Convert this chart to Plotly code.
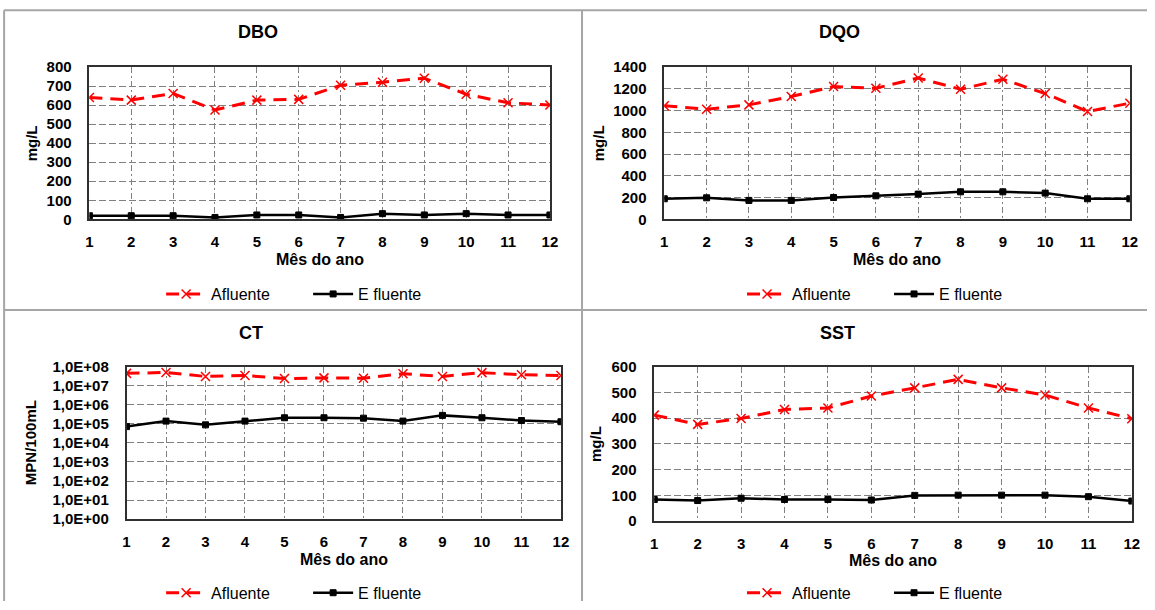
import plotly.graph_objects as go

W, H = 1155, 610
# The captured page is shown with an 8px offset and shrunk (1171x626 -> 1155x610);
SX, SY, OFF = 1171 / 1155, 626 / 610, 8


def px(x):
    return (x * SX - OFF) / W


def py(y):
    return 1 - (y * SY - OFF) / H


months = list(range(1, 13))
tick_months = [str(m) for m in months]

dbo_af = [640, 626, 661, 574, 626, 630, 704, 720, 741, 657, 612, 600]
dbo_ef = [19, 19, 19, 10, 23, 23, 10, 30, 23, 30, 23, 23]
dqo_af = [1043, 1012, 1052, 1128, 1220, 1204, 1299, 1195, 1287, 1156, 991, 1067]
dqo_ef = [189, 198, 174, 174, 201, 216, 232, 253, 253, 241, 189, 189]
ct_af = [4.5e7, 5.0e7, 3.1e7, 3.5e7, 2.4e7, 2.6e7, 2.5e7, 4.3e7, 3.1e7, 4.9e7, 3.8e7, 3.5e7]
ct_ef = [7.2e4, 1.4e5, 8.9e4, 1.4e5, 2.1e5, 2.1e5, 2.0e5, 1.4e5, 2.8e5, 2.1e5, 1.5e5, 1.3e5]
sst_af = [412, 376, 399, 434, 440, 486, 518, 551, 518, 490, 440, 398]
sst_ef = [84, 80, 89, 84, 84, 82, 100, 101, 101, 101, 95, 78]

ct_tickvals = [1e0, 1e1, 1e2, 1e3, 1e4, 1e5, 1e6, 1e7, 1e8]
ct_ticktext = ["1,0E+00", "1,0E+01", "1,0E+02", "1,0E+03", "1,0E+04",
               "1,0E+05", "1,0E+06", "1,0E+07", "1,0E+08"]

FONT = "Liberation Sans, Arial, sans-serif"
GRID = "#808080"

panels = [
    dict(title="DBO", af=dbo_af, ef=dbo_ef, ytitle="mg/L", box=(93, 552, 66, 219),
         yopts=dict(range=[0, 800], dtick=100), leg=(311, 294), ytx=35, ttx=261, tty=31, xtty=259),
    dict(title="DQO", af=dqo_af, ef=dqo_ef, ytitle="mg/L", box=(666, 1130, 66, 219),
         yopts=dict(range=[0, 1400], dtick=200), leg=(890, 294), ytx=600, ttx=841, tty=31, xtty=259),
    dict(title="CT", af=ct_af, ef=ct_ef, ytitle="MPN/100mL", box=(130, 563, 367, 520),
         yopts=dict(type="log", range=[0, 8], tickvals=ct_tickvals, ticktext=ct_ticktext),
         leg=(311, 594), ytx=35, ttx=254, tty=333, xtty=561),
    dict(title="SST", af=sst_af, ef=sst_ef, ytitle="mg/L", box=(656, 1132, 367, 522),
         yopts=dict(range=[0, 600], dtick=100), leg=(890, 594), ytx=598, ttx=839, tty=333, xtty=562),
]

fig = go.Figure()
annotations = []
layout = {}

for i, p in enumerate(panels, start=1):
    sfx = "" if i == 1 else str(i)
    xa, ya = "x" + sfx, "y" + sfx
    leg = "legend" + sfx
    x0, x1, yt, yb = p["box"]

    fig.add_trace(go.Scatter(
        x=months, y=p["af"], name="Afluente", mode="lines+markers",
        xaxis=xa, yaxis=ya, legend=leg,
        line=dict(color="#ff0000", width=3, dash="13px,8px"),
        marker=dict(symbol="x-thin", size=9, line=dict(color="#ff0000", width=1.5), color="#ff0000"),
    ))
    fig.add_trace(go.Scatter(
        x=months, y=p["ef"], name="E fluente", mode="lines+markers",
        xaxis=xa, yaxis=ya, legend=leg,
        line=dict(color="#000000", width=2.5),
        marker=dict(symbol="square", size=6, color="#000000", line=dict(color="#000000", width=1)),
    ))

    layout["xaxis" + sfx] = dict(
        domain=[px(x0), px(x1)], anchor=ya, range=[1, 12],
        tickvals=months, ticktext=tick_months,
        showgrid=True, gridcolor=GRID, gridwidth=1, griddash="6px,3px,2px,3px",
        showline=True, mirror=True, linecolor="#303030", linewidth=1.5,
        ticks="", ticklabelstandoff=8, zeroline=False,
        tickfont=dict(family=FONT, size=15, color="#000000", weight="bold"),
    )
    yopts = dict(
        domain=[py(yb), py(yt)], anchor=xa,
        showgrid=True, gridcolor=GRID, gridwidth=1, griddash="7px,3px",
        showline=True, mirror=True, linecolor="#303030", linewidth=1.5,
        ticks="", ticklabelstandoff=13, zeroline=False,
        tickfont=dict(family=FONT, size=15, color="#000000", weight="bold"),
    )
    yopts.update(p["yopts"])
    layout["yaxis" + sfx] = yopts

    lx, ly = p["leg"]
    layout[leg] = dict(
        x=px(lx), y=py(ly), xanchor="center", yanchor="middle",
        orientation="h", bgcolor="rgba(0,0,0,0)",
        font=dict(family=FONT, size=16, color="#000000"),
        itemwidth=40, tracegroupgap=0,
        entrywidth=92, entrywidthmode="pixels",
    )

    annotations.append(dict(
        text="<b>%s</b>" % p["title"], x=px(p["ttx"]), y=py(p["tty"]),
        xref="paper", yref="paper", showarrow=False, xanchor="center", yanchor="middle",
        font=dict(family=FONT, size=18, color="#000000"),
    ))
    annotations.append(dict(
        text="<b>Mês do ano</b>", x=px((x0 + x1) / 2), y=py(p["xtty"]),
        xref="paper", yref="paper", showarrow=False, xanchor="center", yanchor="middle",
        font=dict(family=FONT, size=16, color="#000000"),
    ))
    annotations.append(dict(
        text="<b>%s</b>" % p["ytitle"], x=px(p["ytx"]), y=py((yt + yb) / 2),
        xref="paper", yref="paper", showarrow=False, xanchor="center", yanchor="middle",
        textangle=-90, font=dict(family=FONT, size=15, color="#000000"),
    ))

BORDER = "#a6a6a6"
shapes = [
    dict(type="line", xref="paper", yref="paper", x0=px(8), x1=1, y0=py(9), y1=py(9),
         line=dict(color=BORDER, width=2)),
    dict(type="line", xref="paper", yref="paper", x0=px(8), x1=px(8), y0=0, y1=py(9),
         line=dict(color=BORDER, width=2)),
    dict(type="line", xref="paper", yref="paper", x0=px(8), x1=1, y0=py(310), y1=py(310),
         line=dict(color=BORDER, width=2)),
    dict(type="line", xref="paper", yref="paper", x0=px(584), x1=px(584), y0=0, y1=py(9),
         line=dict(color=BORDER, width=2)),
]

fig.update_layout(
    width=W, height=H, margin=dict(l=0, r=0, t=0, b=0),
    paper_bgcolor="white", plot_bgcolor="white",
    showlegend=True, annotations=annotations, shapes=shapes,
    font=dict(family=FONT),
    **layout,
)

fig.write_html("out.html")
